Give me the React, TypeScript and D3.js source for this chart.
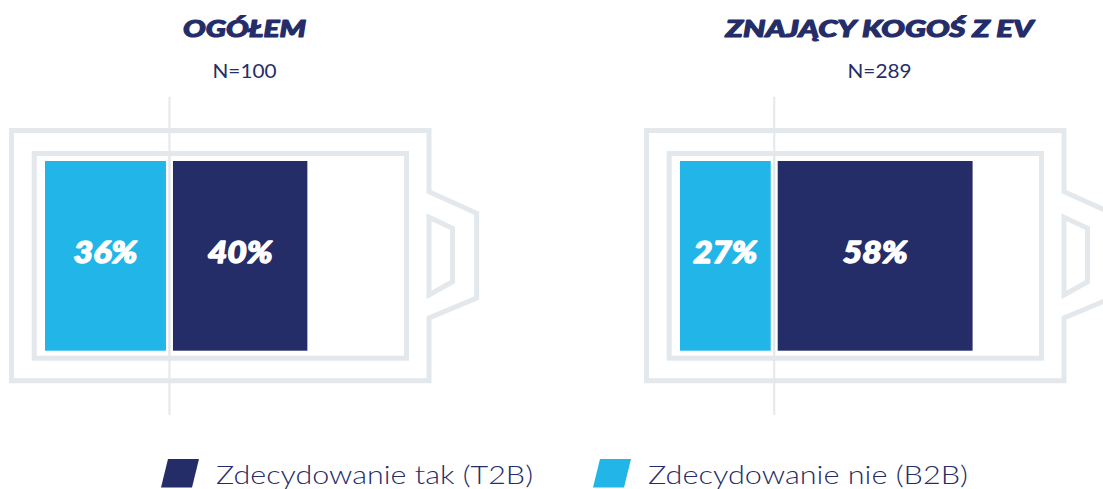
import React from "react";
import * as d3 from "d3";

// ---- data ----
const panels = ["OGÓŁEM", "ZNAJĄCY KOGOŚ Z EV"];
const sampleSizes = ["N=100", "N=289"];
const b2bValues = [36, 27]; // Zdecydowanie nie (B2B)
const t2bValues = [40, 58]; // Zdecydowanie tak (T2B)
const legendLabels = ["Zdecydowanie tak (T2B)", "Zdecydowanie nie (B2B)"];

// ---- style ----
const W = 1103;
const H = 489;
const GRAY = "#E3E8EC";
const NAVY = "#252D69";
const CYAN = "#22B5E8";
const HEAVY = "Lato, 'Open Sans', sans-serif";
const LIGHT = "Lato, 'Open Sans', sans-serif";
const titleWidths = [123, 308];

export default function App() {
  const panelX = d3.scaleOrdinal<string, number>().domain(panels).range([0, 635]);
  const x = d3.scaleLinear().domain([0, 100]).range([0, 336]);
  const barX0 = 45;
  const gap = 7;
  const barTop = 161;
  const barBottom = 350.7;
  const center = 244.5;

  const outerPath = d3.path();
  outerPath.moveTo(11.5, 130.5);
  outerPath.lineTo(429, 130.5);
  outerPath.lineTo(429, 191.7);
  outerPath.lineTo(476.7, 213.3);
  outerPath.lineTo(476.7, 298);
  outerPath.lineTo(429, 318);
  outerPath.lineTo(429, 380.8);
  outerPath.lineTo(11.5, 380.8);
  outerPath.closePath();

  const nubPath = d3.path();
  nubPath.moveTo(429, 217.3);
  nubPath.lineTo(452.5, 228.3);
  nubPath.lineTo(452.5, 281.7);
  nubPath.lineTo(429, 295);
  nubPath.closePath();

  const legendX = [160, 592];
  const legendColors = [NAVY, CYAN];
  const legendWidths = [317, 320];

  return (
    <svg
      width={W}
      height={H}
      style={{ position: "absolute", left: 0, top: 0, background: "#fff" }}
    >
      {panels.map((p, i) => {
        const ox = panelX(p);
        const wB = x(b2bValues[i]);
        const wT = x(t2bValues[i]);
        const divX = barX0 + wB + gap / 2;
        return (
          <g key={p} transform={`translate(${ox},0)`}>
            <text
              x={center}
              y={37.3}
              textAnchor="middle"
              fontFamily={HEAVY}
              fontWeight={900}
              fontStyle="italic"
              fontSize={23}
              fill={NAVY}
              stroke={NAVY}
              strokeWidth={1.1}
              strokeLinejoin="round"
              textLength={titleWidths[i]}
              lengthAdjust="spacingAndGlyphs"
            >
              {p}
            </text>
            <text
              x={center}
              y={78.3}
              textAnchor="middle"
              fontFamily={LIGHT}
              fontWeight={400}
              fontSize={20}
              fill={NAVY}
              textLength={64}
              lengthAdjust="spacingAndGlyphs"
            >
              {sampleSizes[i]}
            </text>
            <line x1={divX} x2={divX} y1={96.7} y2={415} stroke={GRAY} strokeWidth={2} />
            <path d={outerPath.toString()} fill="none" stroke={GRAY} strokeWidth={5} />
            <path d={nubPath.toString()} fill="none" stroke={GRAY} strokeWidth={5} />
            <rect
              x={34.2}
              y={153.5}
              width={406.5 - 34.2}
              height={358.2 - 153.5}
              fill="none"
              stroke={GRAY}
              strokeWidth={5}
            />
            <line x1={divX} x2={divX} y1={151} y2={361} stroke={GRAY} strokeWidth={2} />
            <rect x={barX0} y={barTop} width={wB} height={barBottom - barTop} fill={CYAN} />
            <rect
              x={barX0 + wB + gap}
              y={barTop}
              width={wT}
              height={barBottom - barTop}
              fill={NAVY}
            />
            <text
              x={barX0 + wB / 2}
              y={262.5}
              textAnchor="middle"
              fontFamily={HEAVY}
              fontWeight={900}
              fontStyle="italic"
              fontSize={29.5}
              fill="#fff"
              stroke="#fff"
              strokeWidth={1.4}
              strokeLinejoin="round"
              textLength={64}
              lengthAdjust="spacingAndGlyphs"
            >
              {`${b2bValues[i]}%`}
            </text>
            <text
              x={barX0 + wB + gap + wT / 2}
              y={262.5}
              textAnchor="middle"
              fontFamily={HEAVY}
              fontWeight={900}
              fontStyle="italic"
              fontSize={29.5}
              fill="#fff"
              stroke="#fff"
              strokeWidth={1.4}
              strokeLinejoin="round"
              textLength={65}
              lengthAdjust="spacingAndGlyphs"
            >
              {`${t2bValues[i]}%`}
            </text>
          </g>
        );
      })}
      {legendLabels.map((l, i) => {
        const lx = legendX[i];
        const pts = [
          [lx + 8, 459],
          [lx + 39, 459],
          [lx + 32, 487.5],
          [lx + 1, 487.5],
        ];
        return (
          <g key={l}>
            <polygon points={pts.map((p) => p.join(",")).join(" ")} fill={legendColors[i]} />
            <text
              x={lx + 56}
              y={484.3}
              fontFamily={LIGHT}
              fontWeight={300}
              fontSize={24.5}
              fill={NAVY}
              textLength={legendWidths[i]}
              lengthAdjust="spacingAndGlyphs"
            >
              {l}
            </text>
          </g>
        );
      })}
    </svg>
  );
}
